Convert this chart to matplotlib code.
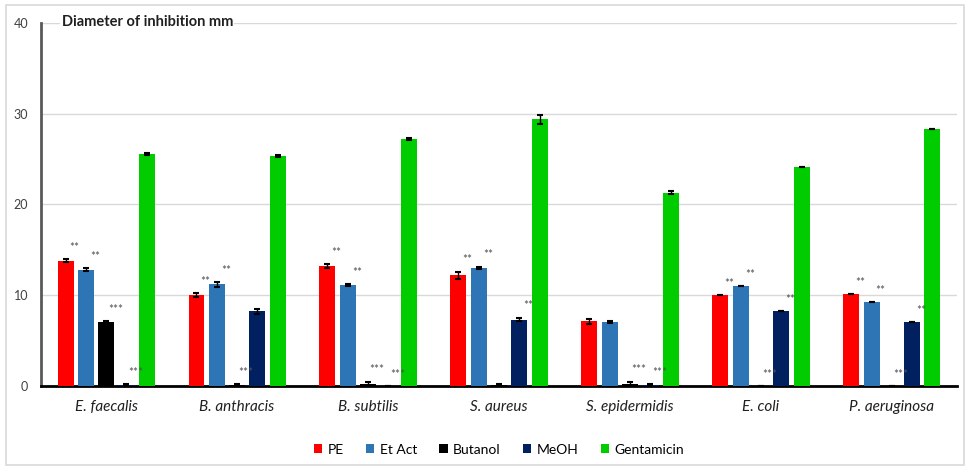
import numpy as np
import matplotlib.pyplot as plt
from matplotlib.patches import Rectangle

plt.rcParams['font.family'] = ['Lato', 'DejaVu Sans']

strains = ['E. faecalis', 'B. anthracis', 'B. subtilis', 'S. aureus',
           'S. epidermidis', 'E. coli', 'P. aeruginosa']
extracts = ['PE', 'Et Act', 'Butanol', 'MeOH', 'Gentamicin']
colors = ['#ff0000', '#2e75b6', '#000000', '#002060', '#00cc00']

pe = [13.8, 10.0, 13.2, 12.2, 7.1, 10.0, 10.1]
et_act = [12.8, 11.2, 11.1, 13.0, 7.0, 11.0, 9.2]
butanol = [7.0, 0.1, 0.2, 0.1, 0.2, 0.0, 0.0]
meoh = [0.1, 8.2, 0.0, 7.3, 0.1, 8.2, 7.0]
gentamicin = [25.6, 25.3, 27.2, 29.4, 21.3, 24.1, 28.3]

pe_err = [0.15, 0.2, 0.2, 0.4, 0.25, 0.0, 0.0]
et_err = [0.15, 0.25, 0.1, 0.15, 0.1, 0.0, 0.0]
but_err = [0.1, 0.1, 0.25, 0.1, 0.25, 0.0, 0.0]
meoh_err = [0.1, 0.25, 0.0, 0.2, 0.1, 0.0, 0.0]
gen_err = [0.1, 0.1, 0.1, 0.5, 0.2, 0.0, 0.0]

# significance marks per extract (Gentamicin has none)
pe_sig = ['**', '**', '**', '**', '', '**', '**']
et_sig = ['**', '**', '**', '**', '', '**', '**']
but_sig = ['***', '***', '***', '', '***', '***', '***']
meoh_sig = ['***', '', '***', '**', '***', '**', '**']

series = [pe, et_act, butanol, meoh, gentamicin]
errors = [pe_err, et_err, but_err, meoh_err, gen_err]
sigs = [pe_sig, et_sig, but_sig, meoh_sig, None]

fig = plt.figure(figsize=(9.68, 4.70), dpi=100)
fig.patches.append(Rectangle((0.006, 0.01), 0.99, 0.98, transform=fig.transFigure,
                             fill=False, edgecolor='#d9d9d9', lw=1.2))
ax = fig.add_axes([0.042, 0.179, 0.947, 0.772])

x = np.arange(len(strains))
step = 0.155
width = 0.122
for i, (vals, errs) in enumerate(zip(series, errors)):
    pos = x + (i - 2) * step
    ax.bar(pos, vals, width, color=colors[i], label=extracts[i], zorder=3,
           yerr=errs, capsize=2.5, error_kw=dict(ecolor='black', lw=1, capthick=1.5))
    if sigs[i] is None:
        continue
    for p, v, e, s in zip(pos, vals, errs, sigs[i]):
        if s:
            ax.text(p + 0.07, v + e + 0.7, s, ha='center', va='bottom',
                    fontsize=8.5, color='#505050', zorder=4)

ax.set_ylim(0, 40)
ax.set_xlim(-0.5, 6.5)
ax.set_yticks([0, 10, 20, 30, 40])
ax.tick_params(axis='y', length=0, labelsize=9, colors='#404040', pad=9)
ax.tick_params(axis='x', length=0, pad=10)
ax.set_xticks(x)
ax.set_xticklabels(strains, fontstyle='italic', fontsize=11, color='#202020')
ax.yaxis.grid(True, color='#d9d9d9', lw=1, zorder=0)
for s in ['top', 'right']:
    ax.spines[s].set_visible(False)
ax.spines['left'].set_color('#595959')
ax.spines['left'].set_linewidth(2)
ax.spines['bottom'].set_color('black')
ax.spines['bottom'].set_linewidth(2)

ax.text(-0.34, 40.1, 'Diameter of inhibition mm', fontsize=10.5, fontweight='bold',
        va='center', color='#202020', zorder=5,
        bbox=dict(facecolor='white', edgecolor='none', pad=1))

ax.legend(loc='upper center', bbox_to_anchor=(0.5, -0.125), ncol=5, frameon=False,
          fontsize=10, handlelength=0.6, handleheight=0.6, columnspacing=1.6,
          handletextpad=0.4)

fig.savefig('out.png', dpi=100)
